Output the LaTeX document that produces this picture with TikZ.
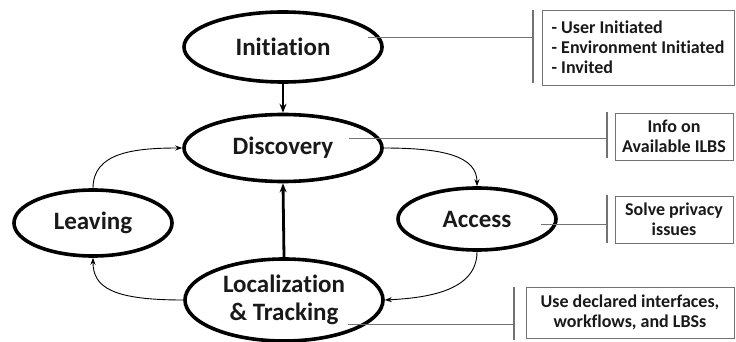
\documentclass[tikz,border=0pt]{standalone}
\usepackage{fontspec}
\setmainfont{Carlito}[Ligatures={NoCommon}]
\usetikzlibrary{shapes.geometric,arrows.meta}
\tikzset{
  state/.style={ellipse, draw=black, line width=3.6pt, inner sep=0pt, align=center,
    font=\fontsize{25}{29}\selectfont\bfseries, text=black!90},
  note/.style={rectangle, draw=black!55, line width=0.9pt, inner sep=0pt,
    font=\fontsize{18}{20}\selectfont\bfseries, text=black!90},
  thickarrow/.style={line width=2.8pt, -{Stealth[length=9pt,width=7pt]}},
  thinarrow/.style={line width=0.9pt, -{Stealth[length=7pt,width=5pt]}},
  leader/.style={draw=black!55, line width=0.9pt},
  bar/.style={draw=black!55, line width=1.6pt}
}
\begin{document}
\begin{tikzpicture}[x=1pt,y=-1pt]
\useasboundingbox (0,0) rectangle (736,342);
% states
\node[state, minimum width=198pt, minimum height=70pt] (init) at (283,47) {Initiation};
\node[state, minimum width=198pt, minimum height=67pt] (disc) at (283,148) {Discovery};
\node[state, minimum width=158pt, minimum height=66pt] (leave) at (93,223) {Leaving};
\node[state, minimum width=158pt, minimum height=62pt] (acc) at (477,219) {Access};
\node[state, minimum width=198pt, minimum height=82pt] (loc) at (284,300) {Localization\\[-1pt]\& Tracking};
% notes
\node[note, minimum width=192pt, minimum height=75pt, align=left] (n1) at (638,47.5)
  {- User Initiated\\- Environment Initiated\\- Invited};
\node[note, minimum width=118pt, minimum height=47pt, align=center] (n2) at (674,136.5) {Info on\\Available ILBS};
\node[note, minimum width=118pt, minimum height=47pt, align=center] (n3) at (674,219.5) {Solve privacy\\issues};
\node[note, minimum width=208pt, minimum height=51pt, align=center] (n4) at (630,312.5) {Use declared interfaces,\\workflows, and LBSs};
% bars
\coordinate (b1t) at (533,10); \coordinate (b1b) at (533,83);
\coordinate (b2t) at (607,112); \coordinate (b2b) at (607,158);
\coordinate (b3t) at (607,195); \coordinate (b3b) at (607,243);
\coordinate (b4t) at (514,287); \coordinate (b4b) at (514,340);
\draw[bar] (b1t) -- (b1b);
\draw[bar] (b2t) -- (b2b);
\draw[bar] (b3t) -- (b3b);
\draw[bar] (b4t) -- (b4b);
% leaders
\coordinate (l1) at (368,37); \coordinate (l2) at (349,138);
\coordinate (l3) at (541,224); \coordinate (l4) at (348,324);
\draw[leader] (l1) -- (l1 -| b1t);
\draw[leader] (l2) -- (l2 -| b2t);
\draw[leader] (l3) -- (l3 -| b3t);
\draw[leader] (l4) -- (l4 -| b4t);
% main arrows
\draw[thickarrow] (init.south) -- (disc.north);
\draw[thickarrow] (loc.north) -- (disc.south);
% thin arrows
\draw[thinarrow] (disc.east) .. controls +(60,0) and +(0,-30) .. (acc.north);
\draw[thinarrow] (acc.south) .. controls +(0,40) and +(40,-2) .. (loc.east);
\draw[thinarrow] (loc.west) .. controls +(-70,0) and +(0,30) .. (leave.south);
\draw[thinarrow] (leave.north) .. controls +(0,-35) and +(-50,0) .. (disc.west);
\end{tikzpicture}
\end{document}
